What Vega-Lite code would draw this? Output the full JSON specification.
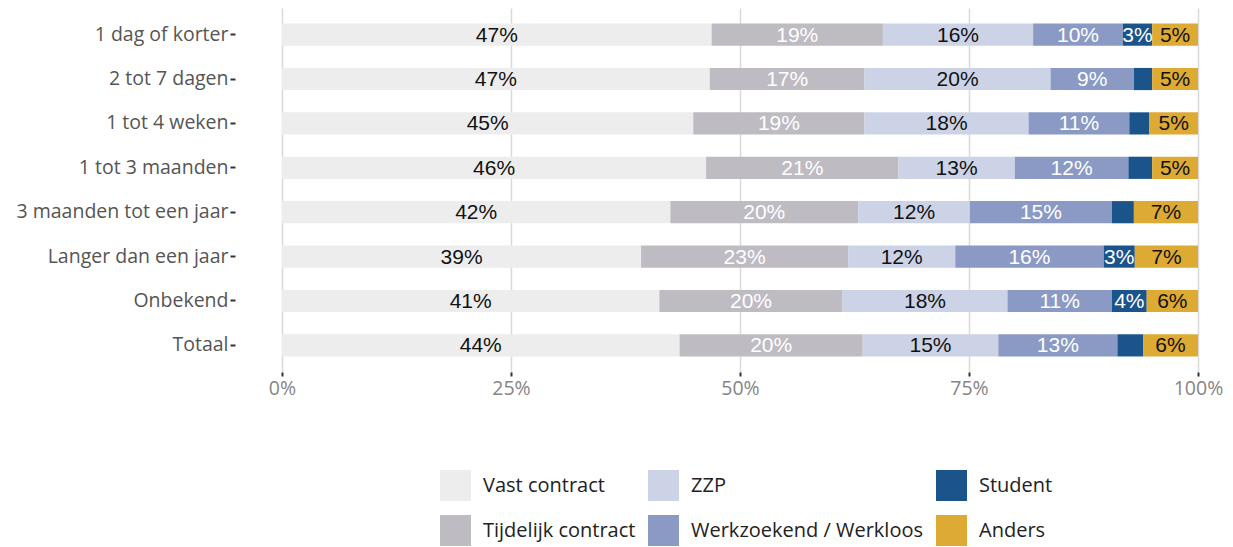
{
  "$schema": "https://vega.github.io/schema/vega-lite/v6.json",
  "autosize": {"type": "none"},
  "width": 916,
  "height": 364,
  "padding": {"left": 282, "top": 8, "right": 35, "bottom": 175},
  "background": "white",
  "config": {"view": {"stroke": null}},
  "data": {
    "values": [
      {"cat": "1 dag of korter", "type": "Vast contract", "value": 46.9, "lab": "47%"},
      {"cat": "1 dag of korter", "type": "Tijdelijk contract", "value": 18.7, "lab": "19%"},
      {"cat": "1 dag of korter", "type": "ZZP", "value": 16.4, "lab": "16%"},
      {"cat": "1 dag of korter", "type": "Werkzoekend / Werkloos", "value": 9.8, "lab": "10%"},
      {"cat": "1 dag of korter", "type": "Student", "value": 3.2, "lab": "3%"},
      {"cat": "1 dag of korter", "type": "Anders", "value": 5.0, "lab": "5%"},
      {"cat": "2 tot 7 dagen", "type": "Vast contract", "value": 46.7, "lab": "47%"},
      {"cat": "2 tot 7 dagen", "type": "Tijdelijk contract", "value": 16.9, "lab": "17%"},
      {"cat": "2 tot 7 dagen", "type": "ZZP", "value": 20.3, "lab": "20%"},
      {"cat": "2 tot 7 dagen", "type": "Werkzoekend / Werkloos", "value": 9.1, "lab": "9%"},
      {"cat": "2 tot 7 dagen", "type": "Student", "value": 2.0, "lab": ""},
      {"cat": "2 tot 7 dagen", "type": "Anders", "value": 5.0, "lab": "5%"},
      {"cat": "1 tot 4 weken", "type": "Vast contract", "value": 44.9, "lab": "45%"},
      {"cat": "1 tot 4 weken", "type": "Tijdelijk contract", "value": 18.7, "lab": "19%"},
      {"cat": "1 tot 4 weken", "type": "ZZP", "value": 17.9, "lab": "18%"},
      {"cat": "1 tot 4 weken", "type": "Werkzoekend / Werkloos", "value": 11.0, "lab": "11%"},
      {"cat": "1 tot 4 weken", "type": "Student", "value": 2.2, "lab": ""},
      {"cat": "1 tot 4 weken", "type": "Anders", "value": 5.3, "lab": "5%"},
      {"cat": "1 tot 3 maanden", "type": "Vast contract", "value": 46.3, "lab": "46%"},
      {"cat": "1 tot 3 maanden", "type": "Tijdelijk contract", "value": 21.0, "lab": "21%"},
      {"cat": "1 tot 3 maanden", "type": "ZZP", "value": 12.7, "lab": "13%"},
      {"cat": "1 tot 3 maanden", "type": "Werkzoekend / Werkloos", "value": 12.4, "lab": "12%"},
      {"cat": "1 tot 3 maanden", "type": "Student", "value": 2.6, "lab": ""},
      {"cat": "1 tot 3 maanden", "type": "Anders", "value": 5.0, "lab": "5%"},
      {"cat": "3 maanden tot een jaar", "type": "Vast contract", "value": 42.4, "lab": "42%"},
      {"cat": "3 maanden tot een jaar", "type": "Tijdelijk contract", "value": 20.5, "lab": "20%"},
      {"cat": "3 maanden tot een jaar", "type": "ZZP", "value": 12.2, "lab": "12%"},
      {"cat": "3 maanden tot een jaar", "type": "Werkzoekend / Werkloos", "value": 15.5, "lab": "15%"},
      {"cat": "3 maanden tot een jaar", "type": "Student", "value": 2.4, "lab": ""},
      {"cat": "3 maanden tot een jaar", "type": "Anders", "value": 7.0, "lab": "7%"},
      {"cat": "Langer dan een jaar", "type": "Vast contract", "value": 39.2, "lab": "39%"},
      {"cat": "Langer dan een jaar", "type": "Tijdelijk contract", "value": 22.6, "lab": "23%"},
      {"cat": "Langer dan een jaar", "type": "ZZP", "value": 11.7, "lab": "12%"},
      {"cat": "Langer dan een jaar", "type": "Werkzoekend / Werkloos", "value": 16.2, "lab": "16%"},
      {"cat": "Langer dan een jaar", "type": "Student", "value": 3.4, "lab": "3%"},
      {"cat": "Langer dan een jaar", "type": "Anders", "value": 6.9, "lab": "7%"},
      {"cat": "Onbekend", "type": "Vast contract", "value": 41.2, "lab": "41%"},
      {"cat": "Onbekend", "type": "Tijdelijk contract", "value": 20.0, "lab": "20%"},
      {"cat": "Onbekend", "type": "ZZP", "value": 18.0, "lab": "18%"},
      {"cat": "Onbekend", "type": "Werkzoekend / Werkloos", "value": 11.4, "lab": "11%"},
      {"cat": "Onbekend", "type": "Student", "value": 3.8, "lab": "4%"},
      {"cat": "Onbekend", "type": "Anders", "value": 5.6, "lab": "6%"},
      {"cat": "Totaal", "type": "Vast contract", "value": 43.4, "lab": "44%"},
      {"cat": "Totaal", "type": "Tijdelijk contract", "value": 20.0, "lab": "20%"},
      {"cat": "Totaal", "type": "ZZP", "value": 14.8, "lab": "15%"},
      {"cat": "Totaal", "type": "Werkzoekend / Werkloos", "value": 13.0, "lab": "13%"},
      {"cat": "Totaal", "type": "Student", "value": 2.8, "lab": ""},
      {"cat": "Totaal", "type": "Anders", "value": 6.0, "lab": "6%"}
    ]
  },
  "transform": [
    {"calculate": "indexof(['Vast contract','Tijdelijk contract','ZZP','Werkzoekend / Werkloos','Student','Anders'], datum.type)", "as": "ord"},
    {"stack": "value", "groupby": ["cat"], "sort": [{"field": "ord", "order": "ascending"}], "as": ["x0", "x1"]},
    {"calculate": "(datum.x0 + datum.x1) / 2", "as": "mid"}
  ],
  "encoding": {
    "y": {
      "field": "cat",
      "type": "nominal",
      "sort": ["1 dag of korter", "2 tot 7 dagen", "1 tot 4 weken", "1 tot 3 maanden", "3 maanden tot een jaar", "Langer dan een jaar", "Onbekend", "Totaal"],
      "scale": {"paddingInner": 0.5, "paddingOuter": 0.35},
      "axis": {
        "title": null,
        "domain": false,
        "offset": 47,
        "ticks": true,
        "tickSize": 5,
        "tickWidth": 2,
        "tickColor": "#333333",
        "labelPadding": 2,
        "labelFont": "Open Sans",
        "labelFontSize": 19.5,
        "labelColor": "#555555",
        "labelLimit": 400,
        "grid": false
      }
    }
  },
  "layer": [
    {
      "mark": {"type": "bar"},
      "encoding": {
        "x": {
          "field": "x0",
          "type": "quantitative",
          "scale": {"domain": [0, 100], "nice": false},
          "axis": {
            "title": null,
            "values": [0, 25, 50, 75, 100],
            "labelExpr": "datum.value + '%'",
            "domain": false,
            "grid": true,
            "gridColor": "#d9d9d9",
            "gridWidth": 1.5,
            "ticks": true,
            "tickSize": 4,
            "tickWidth": 2,
            "tickColor": "#333333",
            "labelPadding": 3,
            "labelFont": "Open Sans",
            "labelFontSize": 19.5,
            "labelColor": "#858585",
            "labelFlush": false
          }
        },
        "x2": {"field": "x1"},
        "color": {
          "field": "type",
          "type": "nominal",
          "scale": {
            "domain": ["Vast contract", "Tijdelijk contract", "ZZP", "Werkzoekend / Werkloos", "Student", "Anders"],
            "range": ["#ededed", "#bebbc2", "#cdd3e6", "#8a9ac4", "#1a548b", "#ddaa33"]
          },
          "legend": {
            "title": null,
            "orient": "none",
            "legendX": 158,
            "legendY": 462,
            "columns": 3,
            "columnPadding": 12,
            "rowPadding": 14,
            "symbolType": "square",
            "symbolSize": 961,
            "symbolStrokeWidth": 0,
            "symbolOpacity": 1,
            "labelFont": "Open Sans",
            "labelFontSize": 20,
            "labelColor": "#222222",
            "labelOffset": 12,
            "labelLimit": 400
          }
        }
      }
    },
    {
      "mark": {"type": "text", "font": "Liberation Sans", "fontSize": 21, "baseline": "middle", "align": "center", "dy": 1},
      "encoding": {
        "x": {"field": "mid", "type": "quantitative"},
        "text": {"field": "lab"},
        "color": {
          "condition": {"test": "indexof(['Tijdelijk contract','Werkzoekend / Werkloos','Student'], datum.type) >= 0", "value": "#ffffff"},
          "value": "#111111"
        }
      }
    }
  ]
}
